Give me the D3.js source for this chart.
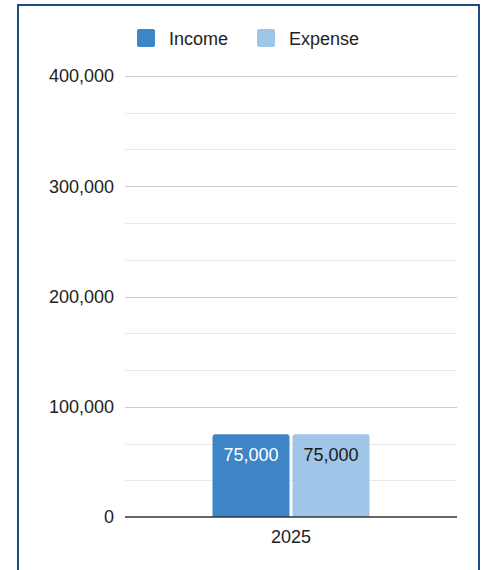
<!DOCTYPE html>
<html>
<head>
<meta charset="utf-8">
<script src="https://cdn.jsdelivr.net/npm/d3@7"></script>
<style>
  html, body { margin: 0; padding: 0; background: #fff; }
  text { font-family: "Liberation Sans", Arial, sans-serif; }
</style>
</head>
<body>
<svg id="chart" width="481" height="570"></svg>
<script>
(function() {
    'use strict';

    // chart data
    var categories = ['2025'];
    var seriesNames = ['Income', 'Expense'];
    var incomeValues = [75000];
    var expenseValues = [75000];
    var yTicks = [0, 100000, 200000, 300000, 400000];

    var seriesColors = ['#3d85c6', '#9fc5e8'];
    var labelColors = ['#ffffff', '#1a1a1a'];
    var seriesValues = [incomeValues, expenseValues];

    var svg = d3.select('#chart');
    var width = 481;
    var height = 570;

    var plot = { left: 125, right: 457, top: 76, bottom: 517 };

    // outer frame (runs off the bottom edge)
    svg.append('rect')
        .attr('x', 18)
        .attr('y', 5)
        .attr('width', 461)
        .attr('height', 620)
        .attr('fill', '#fff')
        .attr('stroke', '#1d4a82')
        .attr('stroke-width', 2);

    var y = d3.scaleLinear()
        .domain([0, 400000])
        .range([plot.bottom, plot.top]);

    var x = d3.scaleBand()
        .domain(categories)
        .range([plot.left, plot.right])
        .padding(0.358);

    var xInner = d3.scaleBand()
        .domain(seriesNames)
        .range([0, x.bandwidth()])
        .paddingInner(0.0375);

    var fmt = d3.format(',');

    // minor gridlines (3 per major step)
    var minor = d3.range(0, 400000, 100000 / 3).filter(function(v) {
        return Math.abs(v % 100000) > 1 && Math.abs(v % 100000 - 100000) > 1;
    });
    svg.append('g')
        .selectAll('line')
        .data(minor)
        .enter().append('line')
        .attr('x1', plot.left)
        .attr('x2', plot.right)
        .attr('y1', function(d) { return Math.round(y(d)) + 0.5; })
        .attr('y2', function(d) { return Math.round(y(d)) + 0.5; })
        .attr('stroke', '#e8e8e8')
        .attr('stroke-width', 1);

    // major gridlines
    svg.append('g')
        .selectAll('line')
        .data(yTicks.filter(function(d) { return d > 0; }))
        .enter().append('line')
        .attr('x1', plot.left)
        .attr('x2', plot.right)
        .attr('y1', function(d) { return Math.round(y(d)) + 0.5; })
        .attr('y2', function(d) { return Math.round(y(d)) + 0.5; })
        .attr('stroke', '#cccccc')
        .attr('stroke-width', 1);

    // y tick labels
    svg.append('g')
        .selectAll('text')
        .data(yTicks)
        .enter().append('text')
        .attr('x', 114)
        .attr('y', function(d) { return y(d); })
        .attr('dy', '0.36em')
        .attr('text-anchor', 'end')
        .attr('font-size', 18)
        .attr('fill', '#222')
        .text(function(d) { return fmt(d); });

    // bars with rounded top corners
    function barPath(x0, w, yTop, yBase, r) {
        return 'M' + x0 + ',' + yBase +
            'V' + (yTop + r) +
            'Q' + x0 + ',' + yTop + ' ' + (x0 + r) + ',' + yTop +
            'H' + (x0 + w - r) +
            'Q' + (x0 + w) + ',' + yTop + ' ' + (x0 + w) + ',' + (yTop + r) +
            'V' + yBase + 'Z';
    }

    var barData = [];
    categories.forEach(function(cat, i) {
        seriesNames.forEach(function(name, s) {
            barData.push({ cat: cat, series: name, s: s, value: seriesValues[s][i] });
        });
    });

    var bars = svg.append('g')
        .selectAll('g')
        .data(barData)
        .enter().append('g');

    bars.append('path')
        .attr('d', function(d) {
            return barPath(x(d.cat) + xInner(d.series), xInner.bandwidth(), y(d.value), y(0), 3);
        })
        .attr('fill', function(d) { return seriesColors[d.s]; });

    bars.append('text')
        .attr('x', function(d) { return x(d.cat) + xInner(d.series) + xInner.bandwidth() / 2; })
        .attr('y', function(d) { return y(d.value) + 27; })
        .attr('text-anchor', 'middle')
        .attr('font-size', 18)
        .attr('fill', function(d) { return labelColors[d.s]; })
        .text(function(d) { return fmt(d.value); });

    // baseline
    svg.append('line')
        .attr('x1', plot.left)
        .attr('x2', plot.right)
        .attr('y1', y(0))
        .attr('y2', y(0))
        .attr('stroke', '#333')
        .attr('stroke-width', 1.5);

    // category labels
    svg.append('g')
        .selectAll('text')
        .data(categories)
        .enter().append('text')
        .attr('x', function(d) { return x(d) + x.bandwidth() / 2; })
        .attr('y', 543)
        .attr('text-anchor', 'middle')
        .attr('font-size', 18)
        .attr('fill', '#222')
        .text(function(d) { return d; });

    // legend
    var legendX = [137, 257];
    var legend = svg.append('g')
        .selectAll('g')
        .data(seriesNames)
        .enter().append('g')
        .attr('transform', function(d, i) { return 'translate(' + legendX[i] + ',29)'; });

    legend.append('rect')
        .attr('width', 18)
        .attr('height', 18)
        .attr('rx', 2)
        .attr('fill', function(d, i) { return seriesColors[i]; });

    legend.append('text')
        .attr('x', 32)
        .attr('y', 16)
        .attr('font-size', 18)
        .attr('fill', '#222')
        .text(function(d) { return d; });
}());
</script>
</body>
</html>
